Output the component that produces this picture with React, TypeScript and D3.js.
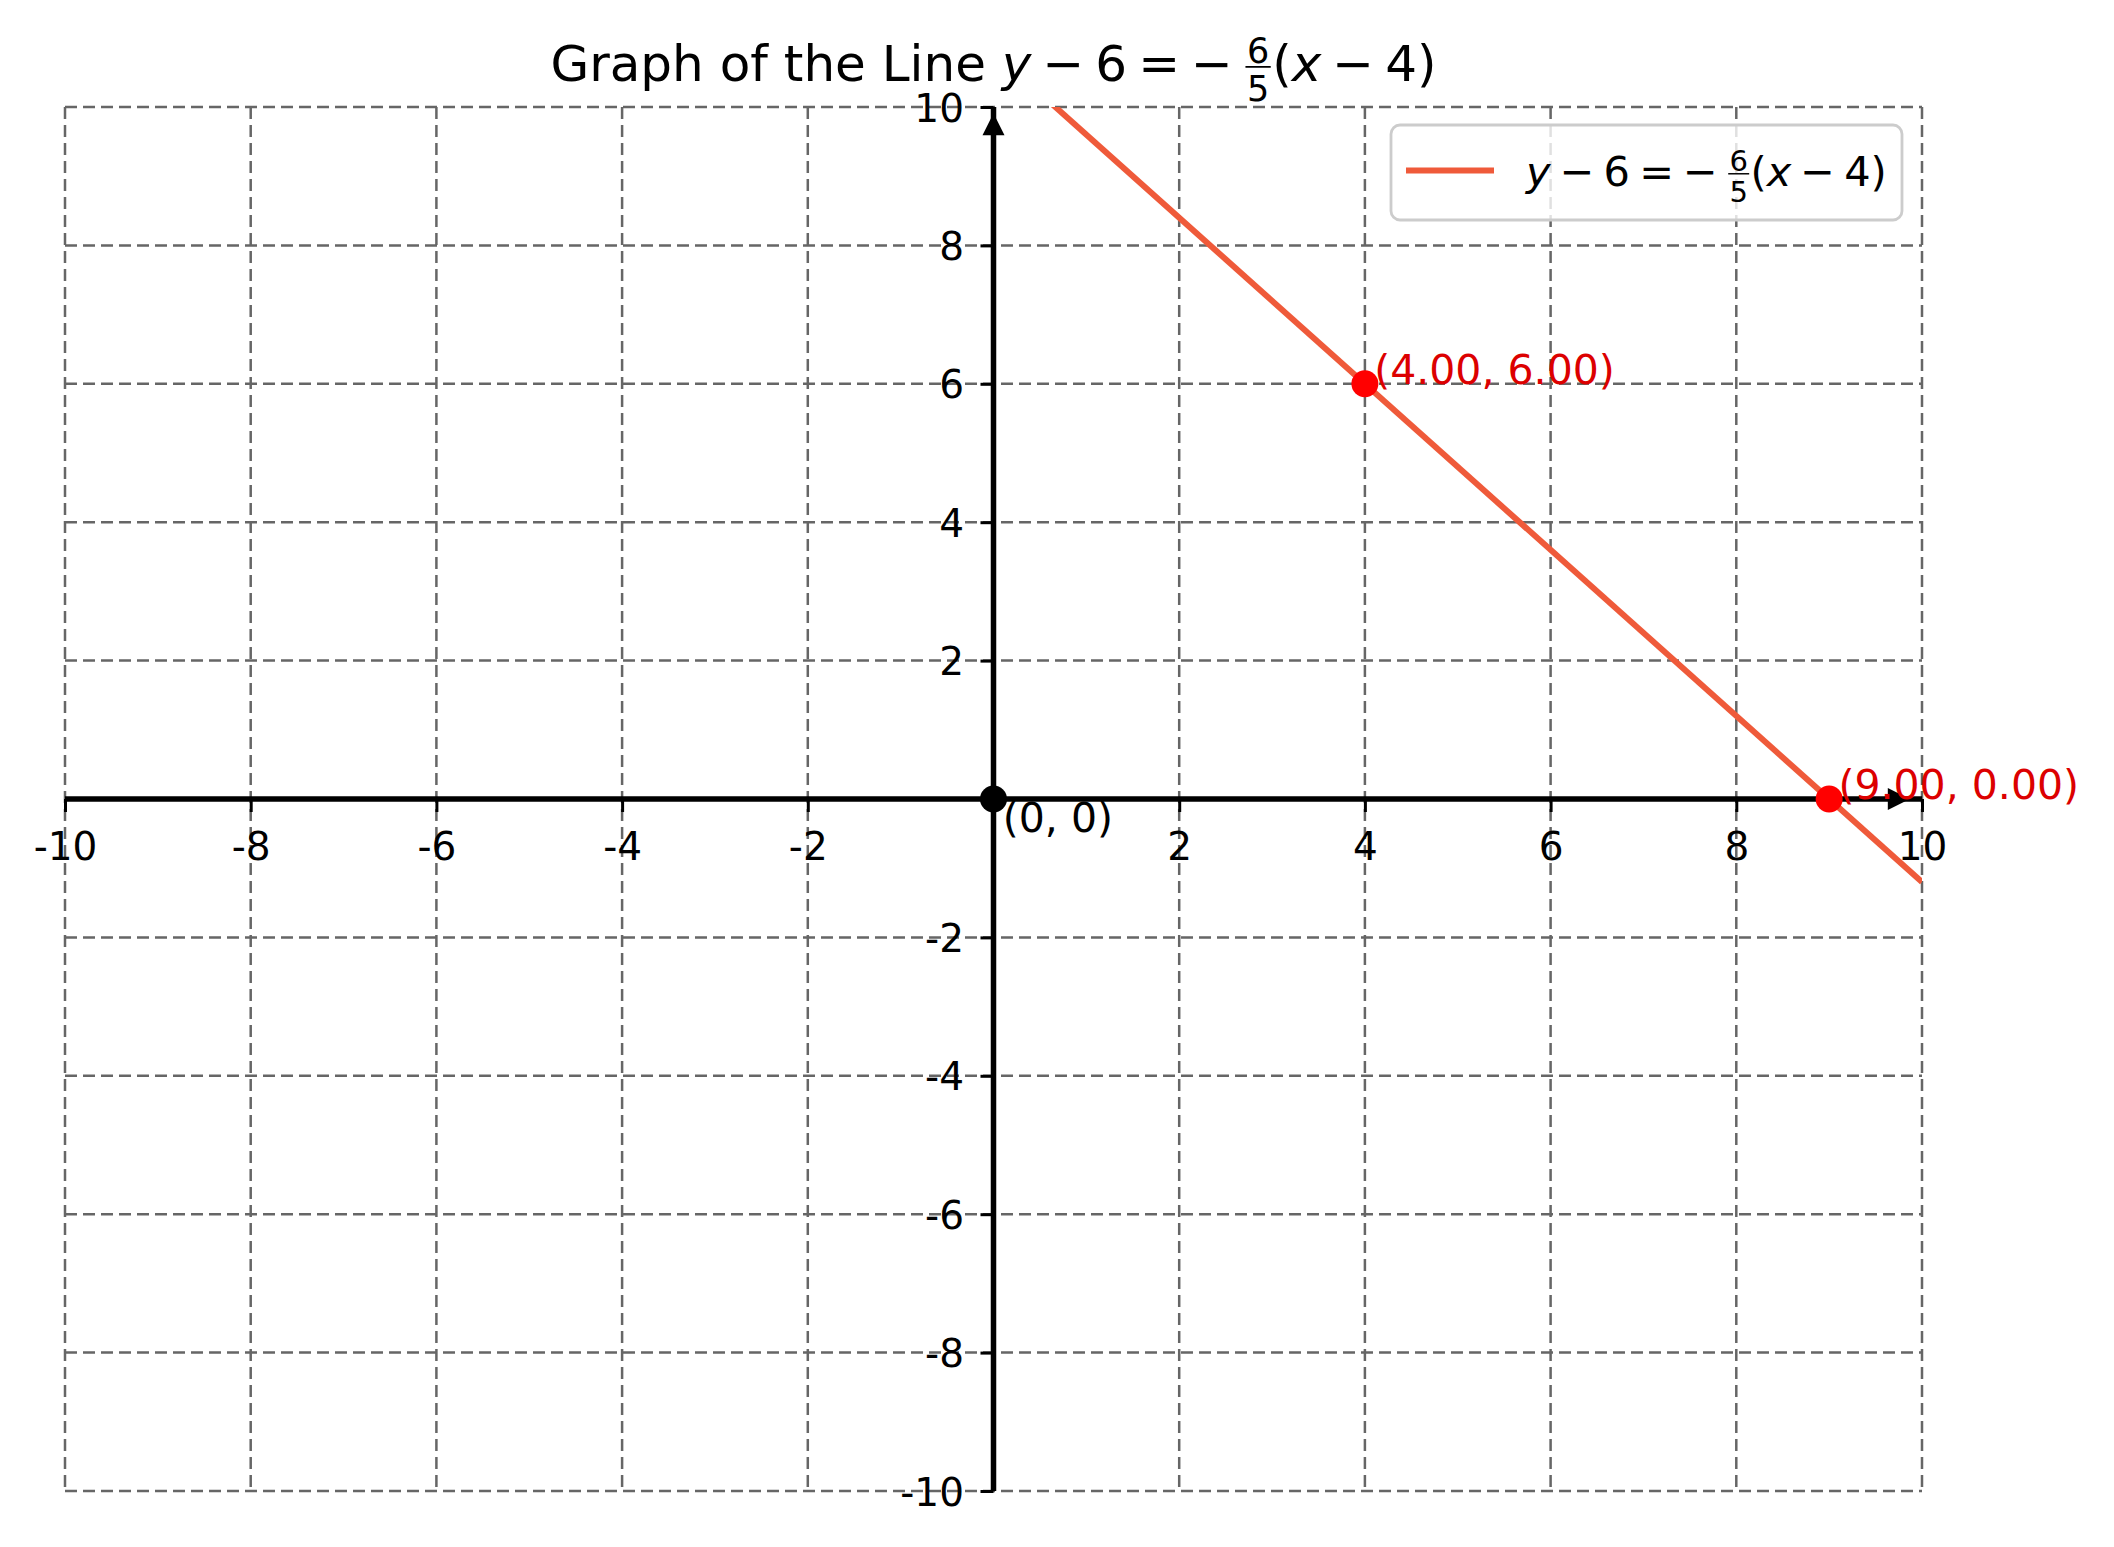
import React, { useEffect, useRef } from 'react';
import * as d3 from 'd3';

const WIDTH = 2114;
const HEIGHT = 1547;
const FONT = '"DejaVu Sans", Verdana, sans-serif';

// axis ranges and ticks
const xDomain: [number, number] = [-10, 10];
const yDomain: [number, number] = [-10, 10];
const gridValues = [-10, -8, -6, -4, -2, 0, 2, 4, 6, 8, 10];
const xTickValues = [-10, -8, -6, -4, -2, 2, 4, 6, 8, 10];
const yTickValues = [-10, -8, -6, -4, -2, 2, 4, 6, 8, 10];

// the line y - 6 = -6/5 (x - 4), end points of the plotted segment
const lineX = [-10, 10];
const lineY = [22.8, -1.2];

const markedPoints = [
  { x: 4, y: 6, label: '(4.00, 6.00)' },
  { x: 9, y: 0, label: '(9.00, 0.00)' },
];
const origin = { x: 0, y: 0, label: '(0, 0)' };
const arrowAt = 9.75;

type Seg =
  | { t: string; italic?: boolean }
  | { num: string; den: string }
  | { gap: number };

// mathtext-like spacing (gap in em)
const SP = 0.22;
const titlePrefix: Seg[] = [{ t: 'Graph of the Line ' }];
const equation: Seg[] = [
  { t: 'y', italic: true },
  { gap: SP }, { t: '−' }, { gap: SP }, { t: '6' },
  { gap: SP }, { t: '=' }, { gap: SP }, { t: '−' }, { gap: SP },
  { num: '6', den: '5' },
  { t: '(' },
  { t: 'x', italic: true },
  { gap: SP }, { t: '−' }, { gap: SP }, { t: '4)' },
];

const LINE_COLOR = '#ef5a3a';
const POINT_COLOR = '#ff0000';
const LABEL_RED = '#dc0000';

const margin = { top: 107, right: 192, bottom: 56, left: 65 };

function drawMath(
  parent: d3.Selection<SVGGElement, unknown, null, undefined>,
  segs: Seg[],
  size: number,
  x: number,
  y: number,
  anchor: 'start' | 'middle',
  color: string
) {
  const g = parent.append('g').attr('fill', color).attr('font-family', FONT);
  let cx = 0;
  segs.forEach(s => {
    if ('gap' in s) {
      cx += s.gap * size;
    } else if ('t' in s) {
      const el = g.append('text')
        .attr('x', cx)
        .attr('y', y)
        .attr('font-size', size)
        .attr('font-style', s.italic ? 'italic' : 'normal')
        .style('white-space', 'pre')
        .text(s.t);
      cx += (el.node() as SVGTextElement).getComputedTextLength();
    } else {
      const fs = size * 0.7;
      const num = g.append('text').attr('font-size', fs).attr('text-anchor', 'middle').text(s.num);
      const den = g.append('text').attr('font-size', fs).attr('text-anchor', 'middle').text(s.den);
      const nw = (num.node() as SVGTextElement).getComputedTextLength();
      const dw = (den.node() as SVGTextElement).getComputedTextLength();
      const w = Math.max(nw, dw) + size * 0.12;
      num.attr('x', cx + w / 2).attr('y', y - size * 0.36);
      den.attr('x', cx + w / 2).attr('y', y + size * 0.4);
      g.append('rect')
        .attr('x', cx + size * 0.03)
        .attr('width', w - size * 0.06)
        .attr('y', y - size * 0.28 - size * 0.02)
        .attr('height', size * 0.035);
      cx += w;
    }
  });
  const shift = anchor === 'middle' ? x - cx / 2 : x;
  g.attr('transform', `translate(${shift},0)`);
}

export default function App() {
  const svgRef = useRef<SVGSVGElement>(null);

  useEffect(() => {
    document.body.style.margin = '0';
    document.body.style.overflow = 'hidden';
    if (!svgRef.current) return;

    const svg = d3.select(svgRef.current);
    svg.selectAll('*').remove();
    const root = svg.append('g') as d3.Selection<SVGGElement, unknown, null, undefined>;

    const xScale = d3.scaleLinear().domain(xDomain).range([margin.left, WIDTH - margin.right]);
    const yScale = d3.scaleLinear().domain(yDomain).range([HEIGHT - margin.bottom, margin.top]);
    const x0 = xScale(0);
    const y0 = yScale(0);

    root.append('rect').attr('width', WIDTH).attr('height', HEIGHT).attr('fill', '#fff');

    // dashed grid
    const grid = root.append('g')
      .attr('stroke', '#666')
      .attr('stroke-width', 2.5)
      .attr('stroke-dasharray', '12,6');
    grid.selectAll('line.v')
      .data(gridValues)
      .join('line')
      .attr('class', 'v')
      .attr('x1', d => xScale(d)).attr('x2', d => xScale(d))
      .attr('y1', yScale(yDomain[1])).attr('y2', yScale(yDomain[0]));
    grid.selectAll('line.h')
      .data(gridValues)
      .join('line')
      .attr('class', 'h')
      .attr('y1', d => yScale(d)).attr('y2', d => yScale(d))
      .attr('x1', xScale(xDomain[0])).attr('x2', xScale(xDomain[1]));

    // the line, clipped to the plot area
    svg.append('defs').append('clipPath').attr('id', 'plot-clip')
      .append('rect')
      .attr('x', xScale(xDomain[0]))
      .attr('y', yScale(yDomain[1]))
      .attr('width', xScale(xDomain[1]) - xScale(xDomain[0]))
      .attr('height', yScale(yDomain[0]) - yScale(yDomain[1]));

    const lineData = lineX.map((x, i) => ({ x, y: lineY[i] }));
    const line = d3.line<{ x: number; y: number }>()
      .x(d => xScale(d.x))
      .y(d => yScale(d.y));
    root.append('path')
      .datum(lineData)
      .attr('clip-path', 'url(#plot-clip)')
      .attr('fill', 'none')
      .attr('stroke', LINE_COLOR)
      .attr('stroke-width', 6)
      .attr('d', line);

    // axes through the origin
    const xAxis = d3.axisBottom(xScale).tickValues(xTickValues).tickSize(13).tickFormat(d => String(d));
    const yAxis = d3.axisLeft(yScale).tickValues(yTickValues).tickSize(13).tickFormat(d => String(d));

    const gx = root.append('g').attr('transform', `translate(0,${y0})`).call(xAxis);
    gx.select('.domain').remove();
    gx.selectAll('.tick line').attr('stroke', '#000').attr('stroke-width', 3);
    gx.selectAll('.tick text')
      .attr('y', 61).attr('dy', 0)
      .attr('fill', '#000')
      .attr('font-family', FONT)
      .attr('font-size', 39);

    const gy = root.append('g').attr('transform', `translate(${x0},0)`).call(yAxis);
    gy.select('.domain').remove();
    gy.selectAll('.tick line').attr('stroke', '#000').attr('stroke-width', 3);
    gy.selectAll('.tick text')
      .attr('x', -29.5).attr('dy', '0.36em')
      .attr('fill', '#000')
      .attr('font-family', FONT)
      .attr('font-size', 39);

    root.append('line')
      .attr('x1', xScale(xDomain[0])).attr('x2', xScale(xDomain[1]))
      .attr('y1', y0).attr('y2', y0)
      .attr('stroke', '#000').attr('stroke-width', 5.5);
    root.append('line')
      .attr('x1', x0).attr('x2', x0)
      .attr('y1', yScale(yDomain[0])).attr('y2', yScale(yDomain[1]))
      .attr('stroke', '#000').attr('stroke-width', 5.5);

    // arrow heads
    const a = 11;
    const ax = xScale(arrowAt);
    const ay = yScale(arrowAt);
    root.append('path')
      .attr('d', `M${ax + a},${y0} L${ax - a},${y0 - a} L${ax - a},${y0 + a} Z`)
      .attr('fill', '#000');
    root.append('path')
      .attr('d', `M${x0},${ay - a} L${x0 - a},${ay + a} L${x0 + a},${ay + a} Z`)
      .attr('fill', '#000');

    // points and labels
    root.append('circle')
      .attr('cx', xScale(origin.x)).attr('cy', yScale(origin.y))
      .attr('r', 13.5).attr('fill', '#000');
    root.append('text')
      .attr('x', xScale(origin.x + 0.1)).attr('y', yScale(origin.y) + 33)
      .attr('font-family', FONT).attr('font-size', 41)
      .attr('fill', '#000')
      .text(origin.label);

    root.selectAll('circle.pt')
      .data(markedPoints)
      .join('circle')
      .attr('class', 'pt')
      .attr('cx', d => xScale(d.x)).attr('cy', d => yScale(d.y))
      .attr('r', 13.5).attr('fill', POINT_COLOR);
    root.selectAll('text.pt')
      .data(markedPoints)
      .join('text')
      .attr('class', 'pt')
      .attr('x', d => xScale(d.x + 0.1)).attr('y', d => yScale(d.y))
      .attr('font-family', FONT).attr('font-size', 41)
      .attr('fill', LABEL_RED)
      .text(d => d.label);

    // legend
    const lw = 511;
    const lh = 95;
    const lx = xScale(xDomain[1]) - 20 - lw;
    const ly = yScale(yDomain[1]) + 18;
    const legend = root.append('g');
    legend.append('rect')
      .attr('x', lx).attr('y', ly).attr('width', lw).attr('height', lh)
      .attr('rx', 9).attr('ry', 9)
      .attr('fill', '#fff').attr('fill-opacity', 0.8)
      .attr('stroke', '#ccc').attr('stroke-width', 2.8);
    legend.append('line')
      .attr('x1', lx + 15).attr('x2', lx + 103)
      .attr('y1', ly + lh / 2 - 2).attr('y2', ly + lh / 2 - 2)
      .attr('stroke', LINE_COLOR).attr('stroke-width', 6);
    drawMath(legend, equation, 41.5, lx + 135, ly + lh / 2 + 13, 'start', '#000');

    // title
    drawMath(root, [...titlePrefix, ...equation], 50, (xScale(xDomain[0]) + xScale(xDomain[1])) / 2, 81, 'middle', '#000');
  }, []);

  return (
    <svg
      ref={svgRef}
      width={WIDTH}
      height={HEIGHT}
      style={{ display: 'block' }}
      role="img"
      aria-label="Graph of the line y - 6 = -6/5 (x - 4)"
    />
  );
}
